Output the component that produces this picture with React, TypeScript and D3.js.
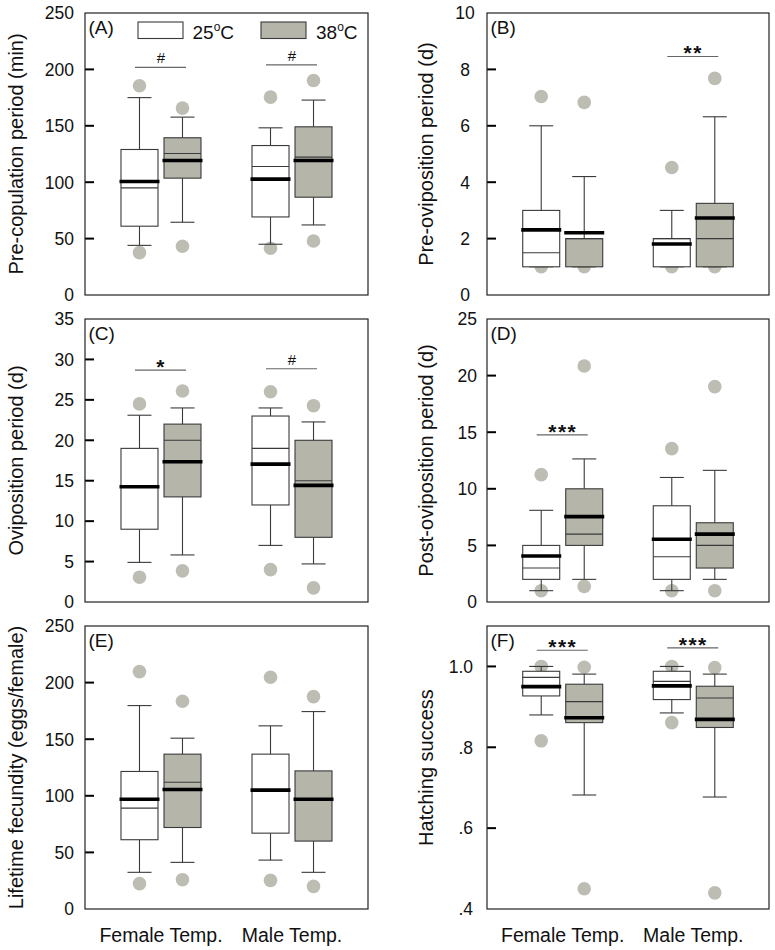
import React from "react";
import * as d3 from "d3";

// ---- data: each row = [whiskerLow, q1, median, q3, whiskerHigh, mean, outlierLow, outlierHigh]
// order of rows: Female Temp. 25°C, Female Temp. 38°C, Male Temp. 25°C, Male Temp. 38°C
const groups = ["Female Temp.", "Male Temp."];
const temps = ["25", "38"];

const preCopulation = [
  [44, 61, 95, 129, 175, 100.6, 37.6, 185.5],
  [64.5, 103.6, 125.4, 139.4, 157.7, 119.2, 43.2, 165.7],
  [45, 69.2, 113.9, 132.5, 148.2, 102.7, 41.4, 175.4],
  [62.1, 86.7, 122.2, 149.1, 172.8, 119.2, 47.9, 190.2],
];
const preOviposition = [
  [1, 1, 1.5, 3, 6, 2.31, 1, 7.04],
  [1, 1, 2, 2, 4.2, 2.21, 1, 6.83],
  [1, 1, 2, 2, 3, 1.81, 1, 4.52],
  [1, 1, 2, 3.25, 6.32, 2.73, 1, 7.68],
];
const oviposition = [
  [4.9, 9, 14.3, 19, 23.1, 14.25, 3.07, 24.5],
  [5.82, 13, 20, 22, 24, 17.34, 3.85, 26.1],
  [7, 12, 19, 23, 24, 17.05, 4, 26],
  [4.71, 8, 15, 20, 22.27, 14.42, 1.75, 24.28],
];
const postOviposition = [
  [1, 2, 3, 5, 8.1, 4.06, 1, 11.25],
  [2, 5, 6, 10, 12.64, 7.54, 1.38, 20.85],
  [1, 2, 4, 8.5, 11, 5.54, 1, 13.55],
  [2, 3, 5, 7, 11.63, 6, 1, 19.03],
];
const fecundity = [
  [32.4, 61.2, 89.1, 121.5, 179.7, 97, 22.4, 209.7],
  [41.2, 72, 112, 136.8, 150.9, 105.6, 25.9, 183.5],
  [43.2, 67, 105, 136.8, 161.8, 105, 25.3, 204.7],
  [32.4, 60, 97, 122, 174.4, 97, 20, 187.6],
];
const hatching = [
  [0.88, 0.927, 0.973, 0.988, 1.0, 0.95, 0.816, 1.0],
  [0.682, 0.861, 0.913, 0.956, 0.981, 0.873, 0.45, 0.998],
  [0.885, 0.918, 0.963, 0.988, 1.0, 0.952, 0.861, 1.0],
  [0.677, 0.849, 0.922, 0.951, 0.981, 0.869, 0.44, 0.997],
];

// significance marks: [group index, y value, label]
const sigA: [number, number, string][] = [[0, 201.8, "#"], [1, 204, "#"]];
const sigB: [number, number, string][] = [[1, 8.46, "**"]];
const sigC: [number, number, string][] = [[0, 28.68, "*"], [1, 28.85, "#"]];
const sigD: [number, number, string][] = [[0, 14.76, "***"]];
const sigE: [number, number, string][] = [];
const sigF: [number, number, string][] = [[0, 1.04, "***"], [1, 1.046, "***"]];

// tick values & labels
const ticksA = [0, 50, 100, 150, 200, 250];
const ticksB = [0, 2, 4, 6, 8, 10];
const ticksC = [0, 5, 10, 15, 20, 25, 30, 35];
const ticksD = [0, 5, 10, 15, 20, 25];
const ticksE = [0, 50, 100, 150, 200, 250];
const ticksF = [0.4, 0.6, 0.8, 1.0];
const tickLabelsF = [".4", ".6", ".8", "1.0"];

const FONT = "'Liberation Sans', Arial, Helvetica, sans-serif";
const GRAY_FILL = "#b5b5aa";
const DOT = "#bdbdb3";
const STROKE = "#3a3a3a";

type PanelProps = {
  x0: number; x1: number; y0: number; y1: number;
  domain: [number, number];
  ticks: number[];
  tickLabels?: string[];
  data: number[][];
  sig: [number, number, string][];
  label: string;
  title: string;
  titleX: number;
  labelRight: number;
  labelAnchor?: string;
  showX?: boolean;
  legend?: boolean;
};

function Panel(p: PanelProps) {
  const y = d3.scaleLinear().domain(p.domain).range([p.y1, p.y0]);
  const xG = d3.scalePoint<string>().domain(groups).range([p.x0, p.x1]).padding(0.58);
  const xT = d3.scalePoint<string>().domain(temps).range([-21.5, 21.5]);
  const bw = 37;
  const cap = 24;
  const cy = (p.y0 + p.y1) / 2;
  const inner = p.ticks.filter((t) => t > p.domain[0] && t < p.domain[1]);

  return (
    <g>
      {/* y tick labels */}
      {p.ticks.map((t, i) => (
        <text key={"tl" + i} x={p.labelRight} y={y(t) + 6.3} fontSize={17.5}
          textAnchor={(p.labelAnchor as any) || "end"} fill="#111" fontFamily={FONT}>
          {p.tickLabels ? p.tickLabels[i] : String(t)}
        </text>
      ))}
      {/* y title */}
      <text transform={`translate(${p.titleX},${cy}) rotate(-90)`} textAnchor="middle"
        fontSize={20} fill="#111" fontFamily={FONT}>{p.title}</text>
      {/* outliers */}
      {p.data.map((d, i) => {
        const cx = (xG(groups[Math.floor(i / 2)]) as number) + (xT(temps[i % 2]) as number);
        return (
          <g key={"o" + i}>
            <circle cx={cx} cy={y(d[6])} r={6.8} fill={DOT} />
            <circle cx={cx} cy={y(d[7])} r={6.8} fill={DOT} />
          </g>
        );
      })}
      {/* boxes */}
      {p.data.map((d, i) => {
        const cx = (xG(groups[Math.floor(i / 2)]) as number) + (xT(temps[i % 2]) as number);
        const fill = i % 2 === 0 ? "#ffffff" : GRAY_FILL;
        return (
          <g key={"b" + i}>
            <line x1={cx} x2={cx} y1={y(d[0])} y2={y(d[1])} stroke={STROKE} strokeWidth={1.1} />
            <line x1={cx} x2={cx} y1={y(d[3])} y2={y(d[4])} stroke={STROKE} strokeWidth={1.1} />
            <line x1={cx - cap / 2} x2={cx + cap / 2} y1={y(d[0])} y2={y(d[0])} stroke={STROKE} strokeWidth={1.1} />
            <line x1={cx - cap / 2} x2={cx + cap / 2} y1={y(d[4])} y2={y(d[4])} stroke={STROKE} strokeWidth={1.1} />
            <rect x={cx - bw / 2} y={y(d[3])} width={bw} height={Math.max(0.5, y(d[1]) - y(d[3]))}
              fill={fill} stroke={STROKE} strokeWidth={1.1} />
            <line x1={cx - bw / 2} x2={cx + bw / 2} y1={y(d[2])} y2={y(d[2])} stroke={STROKE} strokeWidth={1.1} />
            <line x1={cx - bw / 2 - 1.5} x2={cx + bw / 2 + 1.5} y1={y(d[5])} y2={y(d[5])} stroke="#000" strokeWidth={3.6} />
          </g>
        );
      })}
      {/* significance */}
      {p.sig.map((s, i) => {
        const gx = xG(groups[s[0]]) as number;
        const isStar = s[2].startsWith("*");
        return (
          <g key={"s" + i}>
            <line x1={gx - 26} x2={gx + 25} y1={y(s[1])} y2={y(s[1])} stroke="#666" strokeWidth={1.1} />
            <text x={gx} y={y(s[1]) + (isStar ? 4 : -4)} textAnchor="middle"
              fontSize={isStar ? 21 : 15} fontWeight={isStar ? "bold" : "normal"} fill="#111"
              fontFamily={FONT} letterSpacing={isStar ? 1.5 : 0}>{s[2]}</text>
          </g>
        );
      })}
      {/* inner ticks */}
      {inner.map((t, i) => (
        <line key={"t" + i} x1={p.x0} x2={p.x0 + 9} y1={y(t)} y2={y(t)} stroke="#000" strokeWidth={2} />
      ))}
      {/* frame */}
      <rect x={p.x0} y={p.y0} width={p.x1 - p.x0} height={p.y1 - p.y0} fill="none" stroke="#222" strokeWidth={1.2} />
      <text x={p.x0 + 3.5} y={p.y0 + 20.5} fontSize={19} fill="#111" fontFamily={FONT}>{p.label}</text>
      {p.legend && (
        <g fontFamily={FONT} fontSize={19} fill="#111">
          <rect x={138} y={22} width={45} height={16.5} fill="#fff" stroke={STROKE} strokeWidth={1.1} />
          <text x={192.5} y={38.5}>25<tspan fontSize={12} dy={-8}>o</tspan><tspan dy={8}>C</tspan></text>
          <rect x={261} y={22} width={45} height={16.5} fill={GRAY_FILL} stroke={STROKE} strokeWidth={1.1} />
          <text x={316} y={38.5}>38<tspan fontSize={12} dy={-8}>o</tspan><tspan dy={8}>C</tspan></text>
        </g>
      )}
      {p.showX && groups.map((g, i) => (
        <text key={"x" + i} x={xG(g) as number} y={942} textAnchor="middle" fontSize={19.5}
          fill="#111" fontFamily={FONT}>{g}</text>
      ))}
    </g>
  );
}

export default function App() {
  const L: [number, number] = [85, 368];
  const R: [number, number] = [487, 769];
  const rows: [number, number][] = [[13, 295], [319, 602], [626, 909]];
  return (
    <svg width={775} height={950} style={{ position: "absolute", left: 0, top: 0, background: "#fff" }}>
      <rect width={775} height={950} fill="#fff" />
      <Panel x0={L[0]} x1={L[1]} y0={rows[0][0]} y1={rows[0][1]} domain={[0, 250]} ticks={ticksA}
        data={preCopulation} sig={sigA} label="(A)" title="Pre-copulation period (min)" titleX={23}
        labelRight={74} legend />
      <Panel x0={R[0]} x1={R[1]} y0={rows[0][0]} y1={rows[0][1]} domain={[0, 10]} ticks={ticksB}
        data={preOviposition} sig={sigB} label="(B)" title="Pre-oviposition period (d)" titleX={433}
        labelRight={465} labelAnchor="middle" />
      <Panel x0={L[0]} x1={L[1]} y0={rows[1][0]} y1={rows[1][1]} domain={[0, 35]} ticks={ticksC}
        data={oviposition} sig={sigC} label="(C)" title="Oviposition period (d)" titleX={23}
        labelRight={74} />
      <Panel x0={R[0]} x1={R[1]} y0={rows[1][0]} y1={rows[1][1]} domain={[0, 25]} ticks={ticksD}
        data={postOviposition} sig={sigD} label="(D)" title="Post-oviposition period (d)" titleX={433}
        labelRight={477} />
      <Panel x0={L[0]} x1={L[1]} y0={rows[2][0]} y1={rows[2][1]} domain={[0, 250]} ticks={ticksE}
        data={fecundity} sig={sigE} label="(E)" title="Lifetime fecundity (eggs/female)" titleX={23}
        labelRight={74} showX />
      <Panel x0={R[0]} x1={R[1]} y0={rows[2][0]} y1={rows[2][1]} domain={[0.4, 1.1]} ticks={ticksF}
        tickLabels={tickLabelsF} data={hatching} sig={sigF} label="(F)" title="Hatching success" titleX={433}
        labelRight={473} showX />
    </svg>
  );
}
